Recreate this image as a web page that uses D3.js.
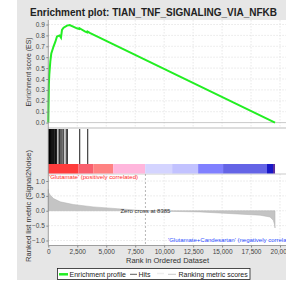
<!DOCTYPE html>
<html>
<head>
<meta charset="utf-8">
<script src="https://cdn.jsdelivr.net/npm/d3@7"></script>
<style>
body{margin:0;padding:0;background:#fff;}
text{font-family:"Liberation Sans",Arial,sans-serif;}
</style>
</head>
<body>
<div id="chart"></div>
<script>
// ---------------- data ----------------
var title = "Enrichment plot: TIAN_TNF_SIGNALING_VIA_NFKB"
var nGenes = 19570
var zeroCross = 8385
var rankTicks = [0,2500,5000,7500,10000,12500,15000,17500,20000]
var esTicks = [0.0,0.1,0.2,0.3,0.4,0.5,0.6,0.7,0.8,0.9]
var metricTicks = [1.0,0.5,0.0,-0.5,-1.0]

// running enrichment score [rank, ES]
var esRank = [0,20,50,86,172,259,457,603,750,974,1095,1181,1319,1612,1850,2474,2670,2690,3190,3360,3380,3621,19570]
var esValue = [0,0.15,0.35,0.44,0.56,0.635,0.70,0.74,0.79,0.80,0.78,0.85,0.87,0.89,0.895,0.865,0.858,0.866,0.835,0.828,0.835,0.82,0]

// positions of gene set members in the ranked list
var hits = [5,25,45,70,100,130,170,210,260,300,350,400,460,520,580,640,690,880,950,1050,1150,1290,1500,1600,2670,3360]

// ranked list metric [rank, value]
var metricRank = [0,20,172,457,1034,2155,3880,5950,8385,10500,13100,15950,18280,19140,19420,19520,19570]
var metricValue = [0.72,0.62,0.52,0.41,0.30,0.21,0.13,0.07,0,-0.02,-0.04,-0.10,-0.15,-0.21,-0.32,-0.45,-0.58]

// colour band under the hits
var bandStart = [0,2586,3879,5603,8362,10690,12931,15086,18879,19397]
var bandEnd = [2586,3879,5603,8362,10690,12931,15086,18879,19397,19570]
var bandColor = ["#ff3c3c","#f9606e","#ff8282","#ffb6dc","#d4d4ff","#c2c2ff","#8080ff","#6464e6","#1818c8","#5a2ca0"]

var legendNames = ["Enrichment profile","Hits","Ranking metric scores"]

// ---------------- layout ----------------
var W = 286, H = 282
var svg = d3.select("#chart").append("svg").attr("width",W).attr("height",H)

var left = 48.3, right = 292
var esTop = 20, esBottom = 128
var hitTop = 128, bandTop = 164, bandBottom = 173.5
var mTop = 174, mBottom = 245.5

var x = d3.scaleLinear().domain([0,20000]).range([left,280])
var yES = d3.scaleLinear().domain([0,0.9]).range([122.6,24.5])
var yM = d3.scaleLinear().domain([-1,1]).range([240.5,181])

// gray frame
svg.append("rect").attr("x",17).attr("y",0).attr("width",W-17).attr("height",280).attr("fill","#e6e6e6")
svg.append("rect").attr("x",left).attr("y",esTop).attr("width",right-left).attr("height",mBottom-esTop).attr("fill","#fff")

svg.append("text").attr("x",153.5).attr("y",15.5).attr("text-anchor","middle")
  .style("font-size","11px").style("font-weight","bold").attr("fill","#222")
  .attr("textLength",247).attr("lengthAdjust","spacingAndGlyphs")
  .text(title)

// grid lines
var grid = svg.append("g").attr("stroke","#d8d8d8").attr("stroke-width",0.6).attr("stroke-dasharray","1.5,1.5")
grid.selectAll(".vg").data(rankTicks.slice(1)).enter().append("line")
  .attr("x1",d=>x(d)).attr("x2",d=>x(d)).attr("y1",esTop).attr("y2",esBottom)
grid.selectAll(".vg2").data(rankTicks.slice(1)).enter().append("line")
  .attr("x1",d=>x(d)).attr("x2",d=>x(d)).attr("y1",mTop).attr("y2",mBottom)
grid.selectAll(".hg").data(esTicks.slice(1)).enter().append("line")
  .attr("x1",left).attr("x2",right).attr("y1",d=>yES(d)).attr("y2",d=>yES(d))
grid.selectAll(".hg2").data(metricTicks).enter().append("line")
  .attr("x1",left).attr("x2",right).attr("y1",d=>yM(d)).attr("y2",d=>yM(d))

// panel separators
svg.append("line").attr("x1",left).attr("x2",right).attr("y1",yES(0)).attr("y2",yES(0)).attr("stroke","#bbb").attr("stroke-width",0.8)
svg.append("line").attr("x1",left).attr("x2",right).attr("y1",esBottom).attr("y2",esBottom).attr("stroke","#aaa").attr("stroke-width",0.8)
svg.append("line").attr("x1",left).attr("x2",right).attr("y1",mTop).attr("y2",mTop).attr("stroke","#aaa").attr("stroke-width",0.6)

// ES curve
var esData = esRank.map((r,i)=>[r,esValue[i]])
svg.append("path").datum(esData)
  .attr("d",d3.line().x(d=>x(d[0])).y(d=>yES(d[1])))
  .attr("fill","none").attr("stroke","#22ee22").attr("stroke-width",2)

// hits
svg.append("g").selectAll("line").data(hits).enter().append("line")
  .attr("x1",d=>x(d)+0.5).attr("x2",d=>x(d)+0.5).attr("y1",hitTop+1).attr("y2",bandTop)
  .attr("stroke","#000").attr("stroke-width",0.9)

// colour band
svg.append("g").selectAll("rect").data(bandStart).enter().append("rect")
  .attr("x",d=>x(d)).attr("width",(d,i)=>x(bandEnd[i])-x(d)).attr("y",bandTop).attr("height",bandBottom-bandTop)
  .attr("fill",(d,i)=>bandColor[i])

// ranked metric
var mData = metricRank.map((r,i)=>[r,metricValue[i]])
svg.append("path").datum(mData)
  .attr("d",d3.area().x(d=>x(d[0])).y0(yM(0)).y1(d=>yM(d[1])))
  .attr("fill","#c4c4c4").attr("stroke","#b0b0b0").attr("stroke-width",0.5)

svg.append("line").attr("x1",x(zeroCross)).attr("x2",x(zeroCross)).attr("y1",mTop).attr("y2",mBottom)
  .attr("stroke","#999").attr("stroke-width",0.7).attr("stroke-dasharray","2,2")
svg.append("text").attr("x",x(zeroCross)).attr("y",213).attr("text-anchor","middle")
  .style("font-size","6px").attr("fill","#333").text("Zero cross at " + zeroCross)

svg.append("text").attr("x",49).attr("y",178.5).style("font-size","6px").attr("fill","#ff2a2a")
  .attr("textLength",89).attr("lengthAdjust","spacingAndGlyphs")
  .text("'Glutamate' (positively correlated)")
svg.append("text").attr("x",168).attr("y",242).style("font-size","6px").attr("fill","#2c4cff")
  .text("'Glutamate+Candesartan' (negatively correlated)")

// axes
svg.append("line").attr("x1",left).attr("x2",left).attr("y1",esTop).attr("y2",mBottom).attr("stroke","#888").attr("stroke-width",0.8)
svg.append("line").attr("x1",left).attr("x2",right).attr("y1",mBottom).attr("y2",mBottom).attr("stroke","#888").attr("stroke-width",0.8)

var axES = svg.append("g").attr("transform","translate("+left+",0)")
  .call(d3.axisLeft(yES).tickValues(esTicks).tickFormat(d3.format(".1f")).tickSize(2))
var axM = svg.append("g").attr("transform","translate("+left+",0)")
  .call(d3.axisLeft(yM).tickValues(metricTicks).tickFormat(d=>d3.format(".1f")(d).replace("-","\u2212")).tickSize(2))
var axX = svg.append("g").attr("transform","translate(0,"+mBottom+")")
  .call(d3.axisBottom(x).tickValues(rankTicks).tickFormat(d3.format(",")).tickSize(2))
;[axES,axM,axX].forEach(function(a){
  a.select(".domain").remove()
  a.selectAll("line").attr("stroke","#888")
  a.selectAll("text").style("font-size","6.5px").attr("fill","#444").style("font-family","Liberation Sans, Arial, sans-serif")
})
axES.selectAll("text").attr("x",-3.5)
axM.selectAll("text").attr("x",-3.5)
axX.selectAll("text").attr("y",4)

svg.append("text").attr("x",167.5).attr("y",263).attr("text-anchor","middle")
  .style("font-size","7.5px").attr("fill","#333").text("Rank in Ordered Dataset")
svg.append("text").attr("transform","translate(30.5,72) rotate(-90)").attr("text-anchor","middle")
  .style("font-size","7px").attr("fill","#333").attr("textLength",69).attr("lengthAdjust","spacingAndGlyphs")
  .text("Enrichment score (ES)")
svg.append("text").attr("transform","translate(30.5,206) rotate(-90)").attr("text-anchor","middle")
  .style("font-size","7px").attr("fill","#333").attr("textLength",112).attr("lengthAdjust","spacingAndGlyphs")
  .text("Ranked list metric (Signal2Noise)")

// legend
var lg = svg.append("g")
lg.append("rect").attr("x",57.5).attr("y",268.5).attr("width",192.5).attr("height",11).attr("fill","#fff").attr("stroke","#222").attr("stroke-width",0.8)
var lgX = [59,130,168], lgW = [9,7,8], lgText = [69.5,138.5,178.5]
var lgStroke = ["#22ee22","#333","#bbb"], lgSw = [2.5,0.8,0.8]
lg.selectAll(".ll").data(legendNames).enter().append("line")
  .attr("x1",(d,i)=>lgX[i]).attr("x2",(d,i)=>lgX[i]+lgW[i]).attr("y1",274.3).attr("y2",274.3)
  .attr("stroke",(d,i)=>lgStroke[i]).attr("stroke-width",(d,i)=>lgSw[i])
lg.append("line").attr("x1",157).attr("x2",164).attr("y1",273.5).attr("y2",273.5).attr("stroke","#eee").attr("stroke-width",1.5)
lg.selectAll(".lt").data(legendNames).enter().append("text")
  .attr("x",(d,i)=>lgText[i]).attr("y",276.8).style("font-size","7px").attr("fill","#222")
  .text(d=>d)
</script>
</body>
</html>
